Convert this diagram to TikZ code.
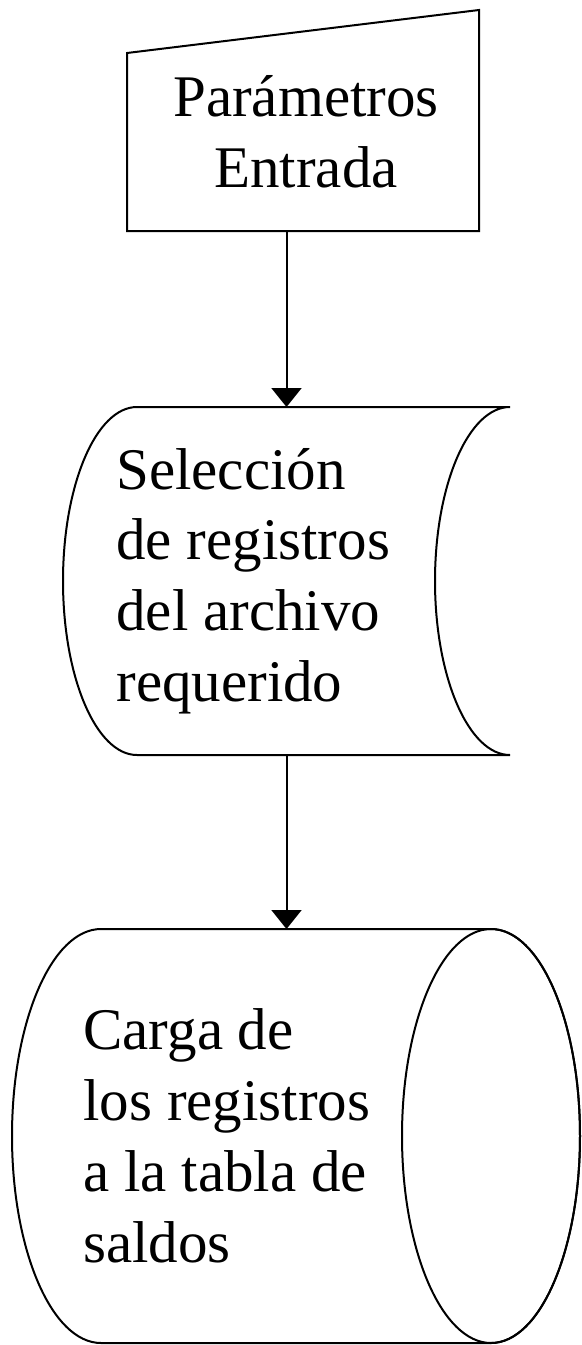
\documentclass[tikz,border=0pt]{standalone}
\usepackage{fontspec}
\setmainfont{Liberation Serif}
\usetikzlibrary{arrows.meta, positioning, calc}

\begin{document}
\begin{tikzpicture}[
    x=0.5pt, y=-0.5pt,
    shp/.style={inner sep=0pt, outer sep=0pt},
    lbl/.style={inner sep=0pt, font=\fontsize{29.5}{35.4}\selectfont},
    outline/.style={line width=1pt},
    arr/.style={-{Triangle[length=9.5pt, width=15pt]}, line width=1pt},
]
    \useasboundingbox (0,0) rectangle (582,1345);

    % Shapes (extents only, outlines drawn below)
    \node[shp, minimum width=176pt, minimum height=110.5pt] (param) at (303,120.5) {};
    \node[shp, minimum width=223.5pt, minimum height=174pt] (sel) at (286.5,581) {};
    \node[shp, minimum width=284pt, minimum height=207pt] (carga) at (296,1136) {};

    % Manual input
    \draw[outline] (param.south west) -- (param.south east) -- (param.north east)
        -- ($(param.north west)+(0,43)$) -- cycle;
    % Stored data
    \draw[outline] ($(sel.north west)+(74,0)$) -- (sel.north east)
        arc[start angle=270, end angle=90, x radius=75, y radius=174]
        -- ($(sel.south west)+(74,0)$)
        arc[start angle=90, end angle=270, x radius=74, y radius=174] -- cycle;
    % Direct access storage
    \draw[outline] ($(carga.north west)+(89,0)$) -- ($(carga.north east)+(-89,0)$)
        arc[start angle=-90, end angle=90, x radius=89, y radius=207]
        -- ($(carga.south west)+(89,0)$)
        arc[start angle=90, end angle=270, x radius=89, y radius=207] -- cycle;
    \draw[outline] ($(carga.east)+(-89,0)$) ellipse[x radius=89, y radius=207];

    % Texts
    \node[lbl, align=center] (paramtxt) at ($(param.center)+(3,11.5)$) {Parámetros\\Entrada};
    \node[lbl, align=left, right=26.5pt of sel.west] (seltxt) {Selección\\de registros\\del archivo\\requerido};
    \node[lbl, align=left, right=35.5pt of carga.west] (cargatxt) {Carga de\\los registros\\a la tabla de\\saldos};

    \draw[arr] (sel.north |- param.south) -- (sel.north);
    \draw[arr] (sel.south) -- (sel.south |- carga.north);
\end{tikzpicture}
\end{document}
